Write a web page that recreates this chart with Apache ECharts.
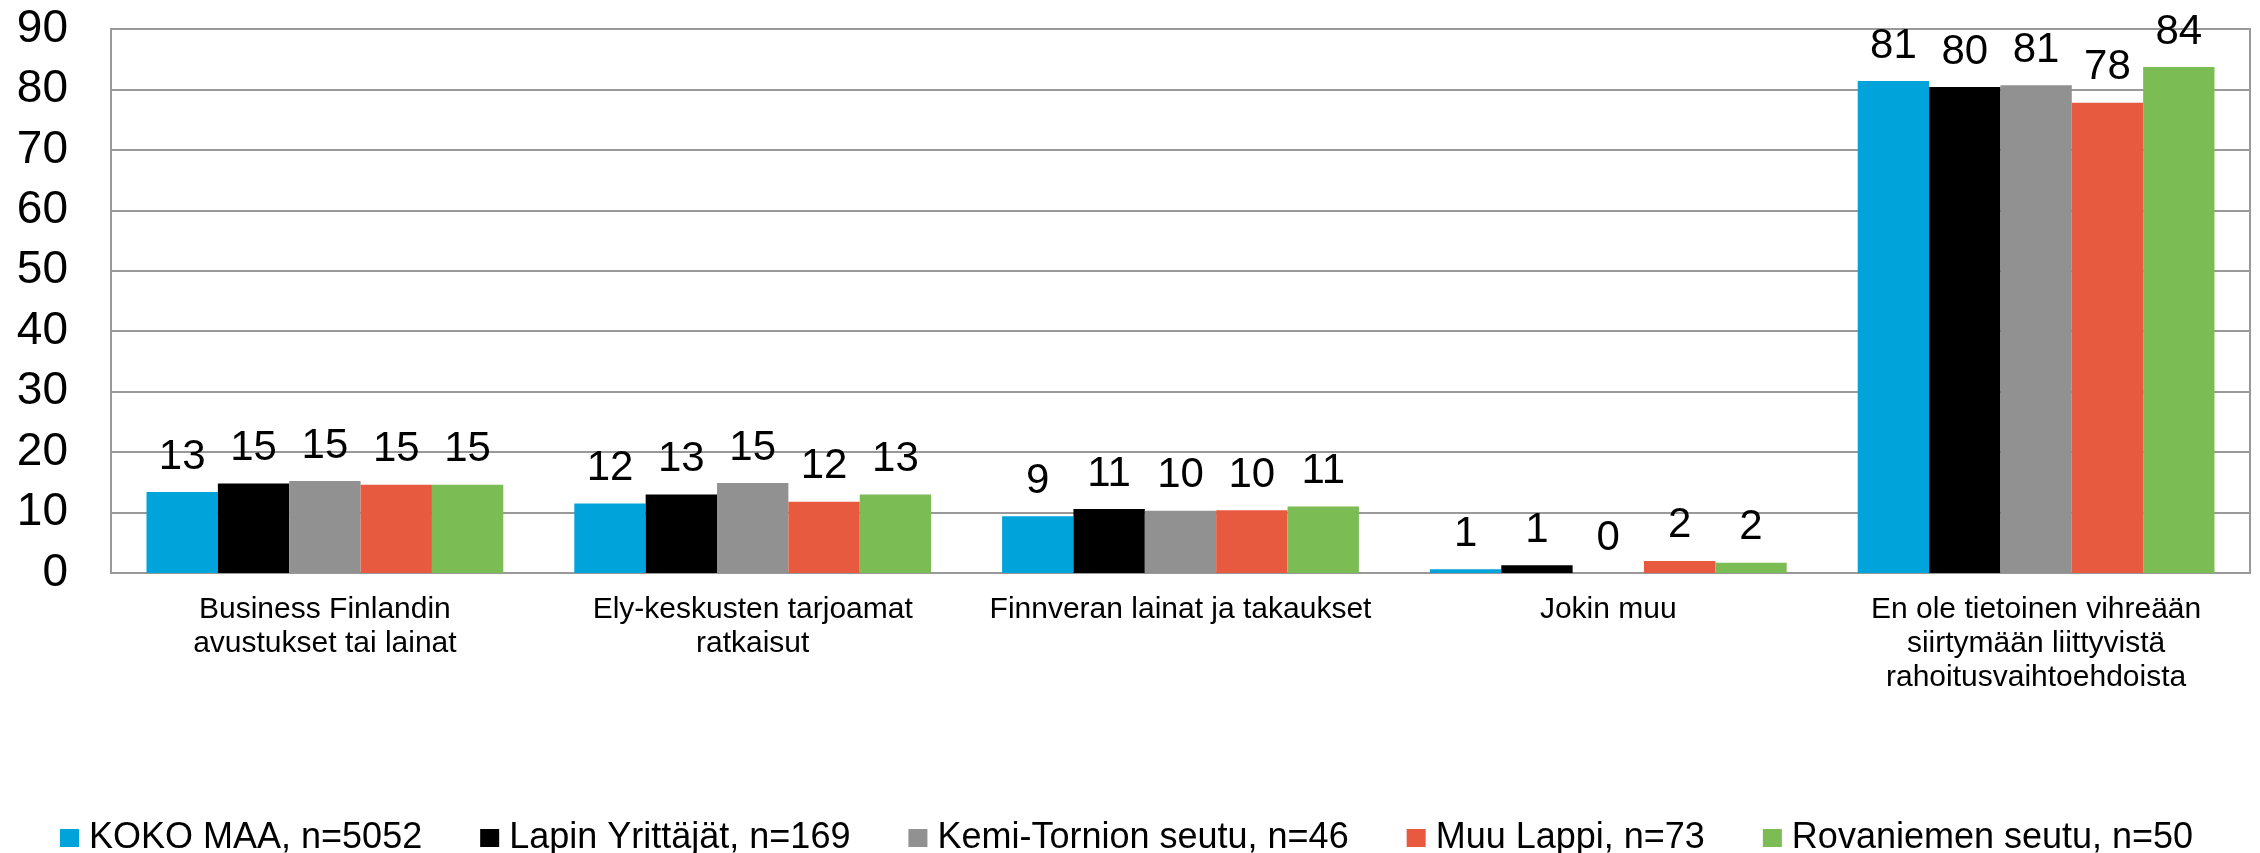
<!DOCTYPE html>
<html>
<head>
<meta charset="utf-8">
<script src="https://cdn.jsdelivr.net/npm/echarts@6/dist/echarts.min.js"></script>
<style>
html,body{margin:0;padding:0;background:#fff;}
#chart{width:2260px;height:853px;}
</style>
</head>
<body>
<div id="chart"></div>
<script>
const categories = [
  "Business Finlandin\navustukset tai lainat",
  "Ely-keskusten tarjoamat\nratkaisut",
  "Finnveran lainat ja takaukset",
  "Jokin muu",
  "En ole tietoinen vihreään\nsiirtymään liittyvistä\nrahoitusvaihtoehdoista"
];
const seriesNames = [
  "KOKO MAA, n=5052",
  "Lapin Yrittäjät, n=169",
  "Kemi-Tornion seutu, n=46",
  "Muu Lappi, n=73",
  "Rovaniemen seutu, n=50"
];
const kokoMaa = [13.4, 11.5, 9.4, 0.6, 81.4];
const lapinYrittajat = [14.8, 13.0, 10.6, 1.3, 80.4];
const kemiTornio = [15.2, 14.9, 10.3, 0, 80.7];
const muuLappi = [14.6, 11.8, 10.4, 2.0, 77.8];
const rovaniemi = [14.6, 13.0, 11.0, 1.7, 83.7];
const colors = ["#00A3DA", "#000000", "#919191", "#E85A40", "#7BBC55"];
const yTicks = { min: 0, max: 90, interval: 10 };

const values = [kokoMaa, lapinYrittajat, kemiTornio, muuLappi, rovaniemi];
const font = "'Liberation Sans', Arial, sans-serif";

const chart = echarts.init(document.getElementById('chart'), null, { renderer: 'canvas' });
chart.setOption({
  animation: false,
  color: colors,
  grid: {
    left: 111, right: 10, top: 29, bottom: 280,
    show: true, borderColor: '#999', borderWidth: 2, containLabel: false
  },
  legend: {
    data: seriesNames,
    left: 55,
    top: 815,
    itemWidth: 19,
    itemHeight: 18,
    itemGap: 58,
    icon: 'rect',
    textStyle: { fontFamily: font, fontSize: 36, color: '#000', padding: [0, 0, 0, 5] }
  },
  xAxis: {
    type: 'category',
    data: categories,
    axisTick: { show: false },
    axisLine: { show: true, lineStyle: { color: '#999', width: 2 } },
    axisLabel: {
      interval: 0, margin: 20, color: '#000',
      fontFamily: font, fontSize: 30, lineHeight: 34, align: 'center'
    }
  },
  yAxis: {
    type: 'value',
    min: yTicks.min, max: yTicks.max, interval: yTicks.interval,
    axisLine: { show: true, lineStyle: { color: '#999', width: 2 } },
    axisTick: { show: false },
    splitLine: { show: true, lineStyle: { color: '#999', width: 2 } },
    axisLabel: { margin: 43, color: '#000', fontFamily: font, fontSize: 46 }
  },
  series: seriesNames.map((name, i) => ({
    name: name,
    type: 'bar',
    data: values[i],
    barGap: '0%',
    barCategoryGap: '16.6%',
    itemStyle: { color: colors[i] },
    label: {
      show: true, position: 'top', distance: 14,
      color: '#000', fontFamily: font, fontSize: 42,
      formatter: p => Math.round(p.value)
    }
  }))
});
</script>
</body>
</html>
